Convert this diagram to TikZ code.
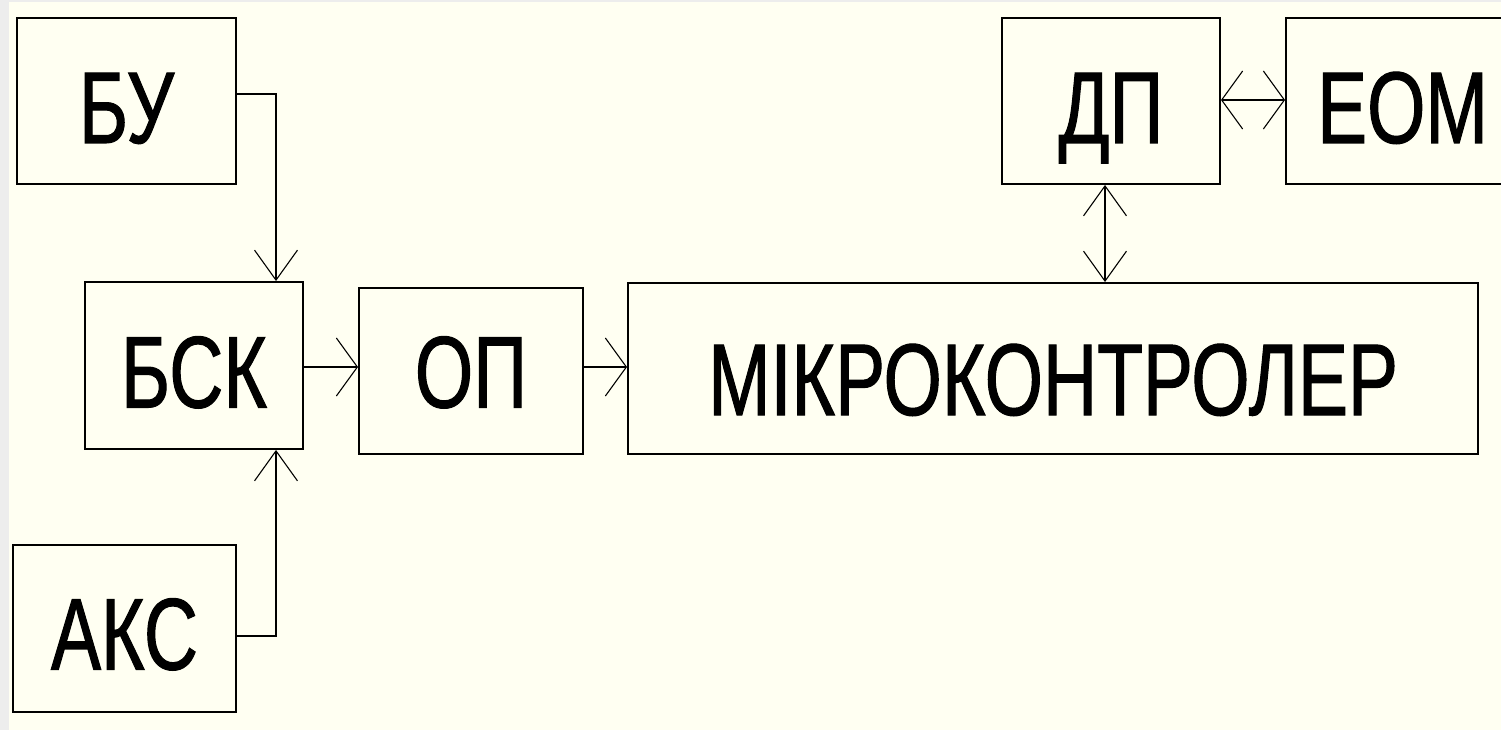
\documentclass[tikz,border=0pt]{standalone}
\usepackage{fontspec}
\newfontfamily\labfont{Liberation Sans}[FakeStretch=0.735,FakeBold=1]
\usetikzlibrary{arrows.meta}
\definecolor{bgcream}{HTML}{FFFFF2}
\definecolor{stripgray}{HTML}{EDEDED}
\tikzset{
  vtip/.tip={Straight Barb[length=30pt,width=43pt,line width=1.1pt]},
  htip/.tip={Straight Barb[length=21pt,width=58pt,line width=1.1pt]},
  blk/.style={draw=black, line width=1.9pt, rectangle, inner sep=0pt,
    font=\labfont\fontsize{102pt}{110pt}\selectfont, text depth=0pt},
  conn/.style={draw=black, line width=1.5pt},
  varr/.style={conn, -vtip},
  harr/.style={conn, -htip},
  vdarr/.style={conn, vtip-vtip},
  hdarr/.style={conn, htip-htip}
}
\begin{document}
\begin{tikzpicture}[x=1pt,y=-1pt]
\useasboundingbox (0,0) rectangle (1501,730);
\clip (0,0) rectangle (1501,730);
\fill[bgcream] (0,0) rectangle (1501,730);
\fill[stripgray] (0,0) rectangle (9,730);
\fill[stripgray] (0,0) rectangle (1501,2);

\node[blk, minimum width=219pt, minimum height=166pt, text height=84pt] (bu) at (126.5,101) {БУ};
\node[blk, minimum width=218pt, minimum height=167pt, text height=84pt] (bsk) at (194,365.5) {БСК};
\node[blk, minimum width=223pt, minimum height=167pt, text height=82pt] (aks) at (124.5,628.5) {АКС};
\node[blk, minimum width=224pt, minimum height=166pt, text height=73pt] (op) at (471,371) {ОП};
\node[blk, minimum width=850pt, minimum height=171pt, text height=93pt] (mk) at (1053,368.5) {МІКРОКОНТРОЛЕР};
\node[blk, minimum width=218pt, minimum height=166pt, text height=84pt] (dp) at (1111,101) {ДП};
\node[blk, minimum width=233pt, minimum height=166pt, text height=84pt] (eom) at (1402.5,101) {ЕОМ};

\draw[varr] ([yshift=7pt]bu.east) -| ([xshift=82pt]bsk.north);
\draw[varr] ([yshift=-7.5pt]aks.east) -| ([xshift=82pt]bsk.south);
\draw[harr] (bsk.east |- 0,367) -- (op.west |- 0,367);
\draw[harr] (op.east |- 0,367) -- (mk.west |- 0,367);
\draw[vdarr] (dp.south -| 1105,0) -- (mk.north -| 1105,0);
\draw[hdarr] (dp.east |- 0,100) -- (eom.west |- 0,100);
\end{tikzpicture}
\end{document}
